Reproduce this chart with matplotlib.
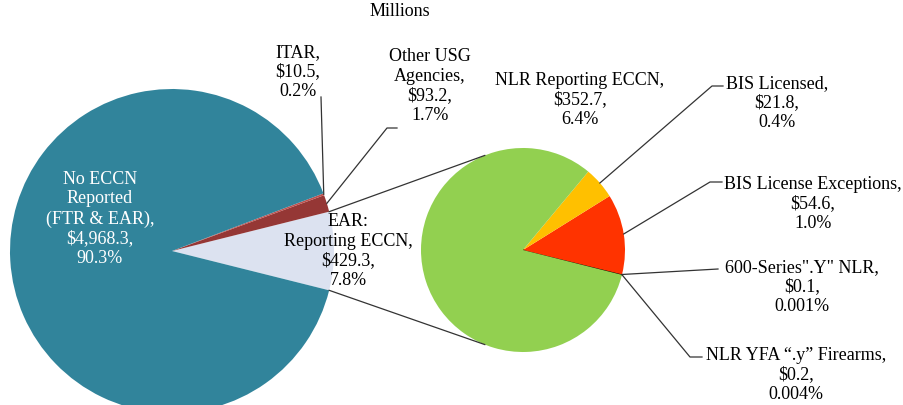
import numpy as np
import matplotlib
matplotlib.use("Agg")
import matplotlib.pyplot as plt

# main pie (Millions)
main_names = ["EAR:\nReporting ECCN", "Other USG\nAgencies", "ITAR", "No ECCN\nReported\n(FTR & EAR)"]
main_values = [429.3, 93.2, 10.5, 4968.3]
main_pcts = ["7.8%", "1.7%", "0.2%", "90.3%"]
main_colors = ["#DCE2F0", "#953735", "#C0504D", "#31849B"]

# breakout of EAR: Reporting ECCN
sub_names = ["NLR YFA \u201c.y\u201d Firearms", "600-Series\".Y\" NLR", "BIS License Exceptions",
             "BIS Licensed", "NLR Reporting ECCN"]
sub_values = [0.2, 0.1, 54.6, 21.8, 352.7]
sub_pcts = ["0.004%", "0.001%", "1.0%", "0.4%", "6.4%"]
sub_colors = ["#000000", "#000000", "#FF3300", "#FFC000", "#92D050"]

W, H = 904, 406
plt.rcParams['font.family'] = ['Liberation Serif', 'DejaVu Serif']

fig = plt.figure(figsize=(W / 100, H / 100), dpi=100)
ax = fig.add_axes([0, 0, 1, 1])

c1, r1 = (172, 154), 162
c2, r2 = (523, 155), 102

start1 = -main_values[0] / sum(main_values) * 180
w1, _ = ax.pie(main_values, colors=main_colors, startangle=start1, counterclock=True,
               center=c1, radius=r1, frame=True, wedgeprops=dict(linewidth=0))
w2, _ = ax.pie(sub_values, colors=sub_colors, startangle=-14.1, counterclock=True,
               center=c2, radius=r2, frame=True, wedgeprops=dict(linewidth=0))
for w in w2[:2]:
    w.set_edgecolor("black")
    w.set_linewidth(0.9)

def edge(w, frac=1.0):
    th = np.deg2rad((w.theta1 + w.theta2) / 2)
    cx, cy = w.center
    return cx + w.r * frac * np.cos(th), cy + w.r * frac * np.sin(th)

def label(i, names, vals, pcts):
    return f"{names[i]},\n${vals[i]:,.1f},\n{pcts[i]}"

lc = "#333333"
# connector lines between the pies
ear = w1[0]
for th1, th2 in [(ear.theta2, 112), (ear.theta1, -112)]:
    a, b = np.deg2rad(th1), np.deg2rad(th2)
    ax.plot([c1[0] + r1 * np.cos(a), c2[0] + r2 * np.cos(b)],
            [c1[1] + r1 * np.sin(a), c2[1] + r2 * np.sin(b)], color=lc, lw=0.9)

txt = dict(fontsize=13, ha="center", va="center", linespacing=1.22)

ax.text(400, 394, "Millions", **txt)

# main pie labels
ax.text(100, 187, label(3, main_names, main_values, main_pcts), color="white", **txt)
ax.text(348, 155, label(0, main_names, main_values, main_pcts), color="black", **txt)
ax.text(298, 334, label(2, main_names, main_values, main_pcts), **txt)
ax.text(430, 320, label(1, main_names, main_values, main_pcts), **txt)

x, y = edge(w1[2])
ax.plot([x, 321], [y, 308], color=lc, lw=0.9)
x, y = edge(w1[1])
ax.plot([x, 387, 397], [y, 277, 277], color=lc, lw=0.9)

# sub pie labels
ax.text(580, 306, label(4, sub_names, sub_values, sub_pcts), **txt)
ax.text(777, 303, label(3, sub_names, sub_values, sub_pcts), **txt)
ax.text(813, 202, label(2, sub_names, sub_values, sub_pcts), **txt)
ax.text(802, 119, label(1, sub_names, sub_values, sub_pcts), **txt)
ax.text(796, 31, label(0, sub_names, sub_values, sub_pcts), **txt)

x, y = edge(w2[3])
ax.plot([x, 712, 723], [y, 319, 319], color=lc, lw=0.9)
x, y = edge(w2[2])
ax.plot([x, 710, 722], [y, 223, 223], color=lc, lw=0.9)
x, y = edge(w2[1])
ax.plot([x, 718], [y, 136], color=lc, lw=0.9)
x, y = edge(w2[0])
ax.plot([x, 690, 702], [y, 48, 48], color=lc, lw=0.9)

ax.set_xlim(0, W)
ax.set_ylim(0, H)
ax.set_aspect("equal")
ax.axis("off")

fig.savefig("out.png", dpi=100)
